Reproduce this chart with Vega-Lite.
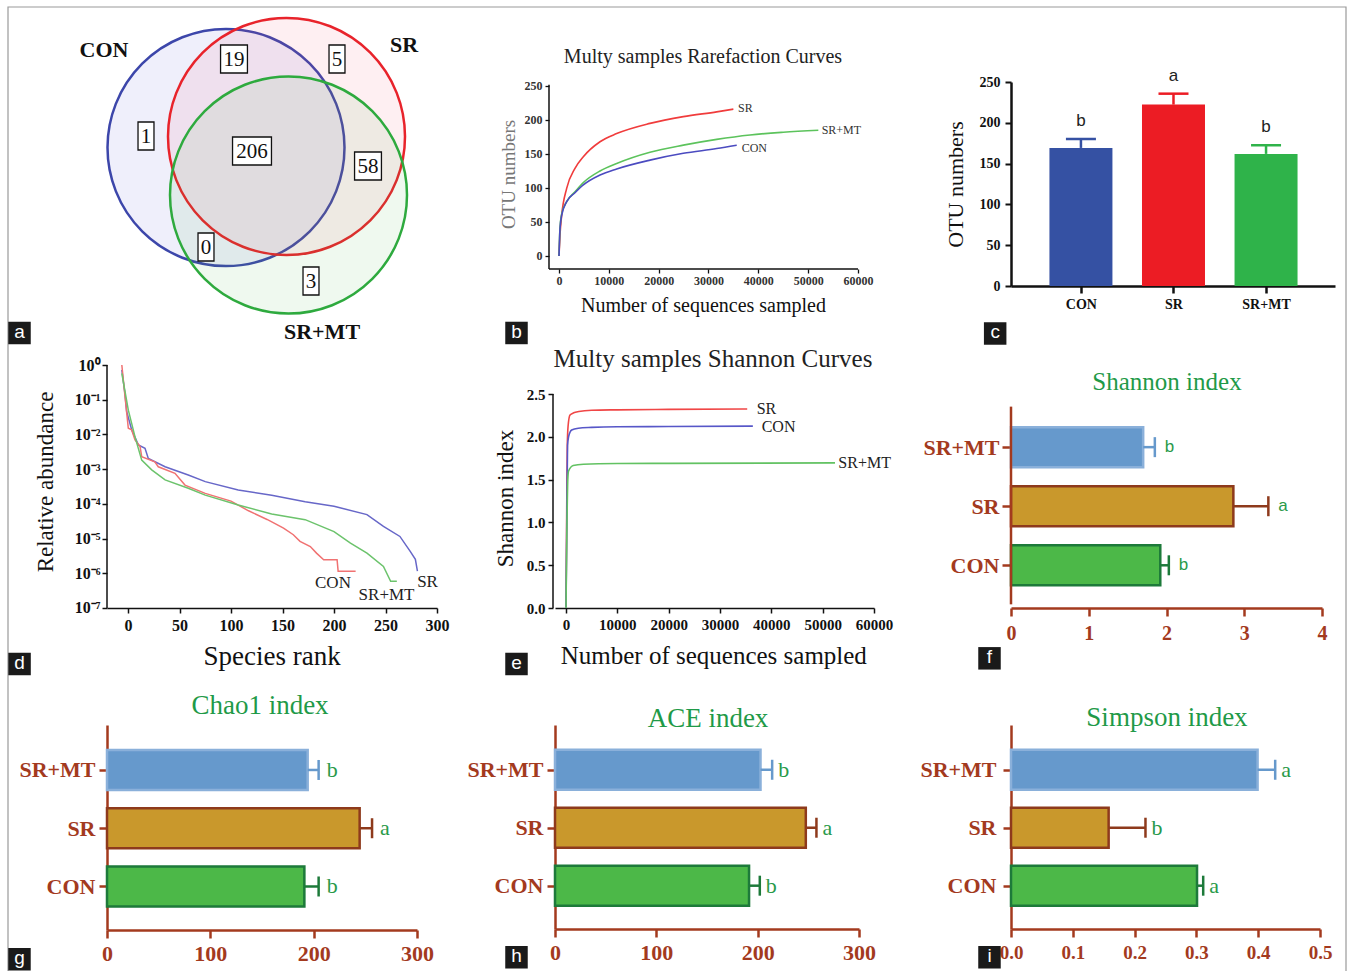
{
"$schema": "https://vega.github.io/schema/vega-lite/v6.json",
"autosize": {"type": "none"},
"padding": {"left": 107, "top": 82, "right": 1241, "bottom": 889},
"background": "white",
"columns": 3,
"spacing": {"row": 79, "column": 118},
"align": "none",
"bounds": "flush",
"resolve": {"scale": {"color": "independent", "fill": "independent", "stroke": "independent", "strokeWidth": "independent", "shape": "independent"}},
"datasets": {
"venn_sets": [{"set":"CON","cx":119,"cy":65.5},{"set":"SR","cx":179.5,"cy":54.5},{"set":"SR+MT","cx":181.5,"cy":113}],
"venn_counts": [{"n":"19","cx":127,"cy":-23},{"n":"5","cx":230,"cy":-23},{"n":"1","cx":39,"cy":54},{"n":"206","cx":145,"cy":69},{"n":"58","cx":261,"cy":84},{"n":"0","cx":99,"cy":165},{"n":"3","cx":204,"cy":199}],
"venn_names": [{"set":"CON","cx":-3,"cy":-32},{"set":"SR","cx":297,"cy":-37},{"set":"SR+MT","cx":215,"cy":250}],
"rarefaction": [
{"group":"SR","seqs":0,"otus":0},{"group":"SR","seqs":200,"otus":31},{"group":"SR","seqs":540,"otus":60},{"group":"SR","seqs":1540,"otus":99.5},{"group":"SR","seqs":3210,"otus":129},{"group":"SR","seqs":4880,"otus":146},{"group":"SR","seqs":8230,"otus":168},{"group":"SR","seqs":11570,"otus":180},{"group":"SR","seqs":18260,"otus":195},{"group":"SR","seqs":24950,"otus":205},{"group":"SR","seqs":31640,"otus":212},{"group":"SR","seqs":34990,"otus":216},
{"group":"SR+MT","seqs":0,"otus":0},{"group":"SR+MT","seqs":200,"otus":42},{"group":"SR+MT","seqs":540,"otus":62},{"group":"SR+MT","seqs":1540,"otus":80},{"group":"SR+MT","seqs":3210,"otus":94.5},{"group":"SR+MT","seqs":4880,"otus":108},{"group":"SR+MT","seqs":8230,"otus":125},{"group":"SR+MT","seqs":11570,"otus":136},{"group":"SR+MT","seqs":18260,"otus":152.5},{"group":"SR+MT","seqs":24950,"otus":163},{"group":"SR+MT","seqs":31640,"otus":171.5},{"group":"SR+MT","seqs":38330,"otus":178},{"group":"SR+MT","seqs":45010,"otus":182},{"group":"SR+MT","seqs":52040,"otus":185},
{"group":"CON","seqs":0,"otus":0},{"group":"CON","seqs":200,"otus":40},{"group":"CON","seqs":540,"otus":60},{"group":"CON","seqs":1540,"otus":80},{"group":"CON","seqs":3210,"otus":93},{"group":"CON","seqs":4880,"otus":104.5},{"group":"CON","seqs":8230,"otus":119},{"group":"CON","seqs":11570,"otus":128},{"group":"CON","seqs":18260,"otus":141},{"group":"CON","seqs":24950,"otus":151},{"group":"CON","seqs":31640,"otus":158},{"group":"CON","seqs":35660,"otus":163}
],
"rarefaction_labels": [{"group":"SR","seqs":35920,"otus":217.6},{"group":"SR+MT","seqs":52710,"otus":185.3},{"group":"CON","seqs":36660,"otus":158.8}],
"otu": [{"group":"CON","otus":169.2,"upper":180.3,"letter":"b"},{"group":"SR","otus":222.3,"upper":235.7,"letter":"a"},{"group":"SR+MT","otus":161.9,"upper":172.5,"letter":"b"}],
"rank_abundance": [
{"group":"SR","rank":-6,"abundance":0.724},{"group":"SR","rank":-3,"abundance":0.151},{"group":"SR","rank":-1.3,"abundance":0.0457},{"group":"SR","rank":3.6,"abundance":0.0135},{"group":"SR","rank":10,"abundance":0.00501},{"group":"SR","rank":16.5,"abundance":0.00398},{"group":"SR","rank":19.7,"abundance":0.00204},{"group":"SR","rank":36,"abundance":0.00117},{"group":"SR","rank":58.5,"abundance":0.000676},{"group":"SR","rank":75,"abundance":0.000437},{"group":"SR","rank":107,"abundance":0.000251},{"group":"SR","rank":139.5,"abundance":0.000178},{"group":"SR","rank":172,"abundance":0.000115},{"group":"SR","rank":200,"abundance":0.000085},{"group":"SR","rank":232,"abundance":0.000049},{"group":"SR","rank":248,"abundance":0.0000224},{"group":"SR","rank":264,"abundance":0.0000115},{"group":"SR","rank":274,"abundance":0.00000427},{"group":"SR","rank":279,"abundance":0.00000251},{"group":"SR","rank":281,"abundance":0.00000115},
{"group":"CON","rank":-6,"abundance":1.0},{"group":"CON","rank":-2.9,"abundance":0.123},{"group":"CON","rank":0.3,"abundance":0.0151},{"group":"CON","rank":3.6,"abundance":0.0135},{"group":"CON","rank":6.8,"abundance":0.00692},{"group":"CON","rank":11.7,"abundance":0.00447},{"group":"CON","rank":13.3,"abundance":0.00229},{"group":"CON","rank":26,"abundance":0.00162},{"group":"CON","rank":29.4,"abundance":0.00117},{"group":"CON","rank":45.6,"abundance":0.000759},{"group":"CON","rank":55.3,"abundance":0.000347},{"group":"CON","rank":75,"abundance":0.0002},{"group":"CON","rank":100,"abundance":0.00012},{"group":"CON","rank":117,"abundance":0.000063},{"group":"CON","rank":135,"abundance":0.0000355},{"group":"CON","rank":151,"abundance":0.00002},{"group":"CON","rank":160.5,"abundance":0.0000129},{"group":"CON","rank":167,"abundance":0.0000083},{"group":"CON","rank":177,"abundance":0.0000059},{"group":"CON","rank":183,"abundance":0.0000038},{"group":"CON","rank":190,"abundance":0.00000245},{"group":"CON","rank":203,"abundance":0.00000245},{"group":"CON","rank":204,"abundance":0.00000115},{"group":"CON","rank":221,"abundance":0.00000115},
{"group":"SR+MT","rank":-6,"abundance":0.575},{"group":"SR+MT","rank":0.3,"abundance":0.0501},{"group":"SR+MT","rank":6.8,"abundance":0.00851},{"group":"SR+MT","rank":13.3,"abundance":0.00182},{"group":"SR+MT","rank":23,"abundance":0.000955},{"group":"SR+MT","rank":36,"abundance":0.00049},{"group":"SR+MT","rank":58.5,"abundance":0.000282},{"group":"SR+MT","rank":75,"abundance":0.000178},{"group":"SR+MT","rank":107,"abundance":0.000093},{"group":"SR+MT","rank":139.5,"abundance":0.000051},{"group":"SR+MT","rank":172,"abundance":0.000035},{"group":"SR+MT","rank":200,"abundance":0.0000158},{"group":"SR+MT","rank":216,"abundance":0.0000074},{"group":"SR+MT","rank":232,"abundance":0.0000038},{"group":"SR+MT","rank":248,"abundance":0.00000158},{"group":"SR+MT","rank":255,"abundance":0.00000059},{"group":"SR+MT","rank":261,"abundance":0.00000059}
],
"rank_labels": [{"group":"CON","rank":199,"abundance":0.000000525},{"group":"SR+MT","rank":251,"abundance":0.000000236},{"group":"SR","rank":290.8,"abundance":0.00000056}],
"shannon_curves": [
{"group":"SR","seqs":0,"shannon":0},{"group":"SR","seqs":120,"shannon":1.0},{"group":"SR","seqs":250,"shannon":1.9},{"group":"SR","seqs":400,"shannon":2.12},{"group":"SR","seqs":780,"shannon":2.255},{"group":"SR","seqs":1500,"shannon":2.28},{"group":"SR","seqs":2500,"shannon":2.295},{"group":"SR","seqs":5000,"shannon":2.31},{"group":"SR","seqs":10000,"shannon":2.315},{"group":"SR","seqs":20000,"shannon":2.32},{"group":"SR","seqs":35300,"shannon":2.325},
{"group":"CON","seqs":0,"shannon":0},{"group":"CON","seqs":150,"shannon":1.0},{"group":"CON","seqs":300,"shannon":1.9},{"group":"CON","seqs":500,"shannon":2.0},{"group":"CON","seqs":1100,"shannon":2.08},{"group":"CON","seqs":2400,"shannon":2.1},{"group":"CON","seqs":5000,"shannon":2.11},{"group":"CON","seqs":10000,"shannon":2.118},{"group":"CON","seqs":20000,"shannon":2.12},{"group":"CON","seqs":36400,"shannon":2.125},
{"group":"SR+MT","seqs":0,"shannon":0},{"group":"SR+MT","seqs":150,"shannon":0.8},{"group":"SR+MT","seqs":350,"shannon":1.5},{"group":"SR+MT","seqs":500,"shannon":1.6},{"group":"SR+MT","seqs":1400,"shannon":1.665},{"group":"SR+MT","seqs":3400,"shannon":1.68},{"group":"SR+MT","seqs":10000,"shannon":1.688},{"group":"SR+MT","seqs":20000,"shannon":1.69},{"group":"SR+MT","seqs":52400,"shannon":1.695}
],
"shannon_labels": [{"group":"SR","seqs":37150,"shannon":2.325},{"group":"CON","seqs":38120,"shannon":2.117},{"group":"SR+MT","seqs":53050,"shannon":1.69}],
"alpha": [
{"index":"Shannon","group":"CON","mean":1.92,"upper":2.03,"letter":"b"},
{"index":"Shannon","group":"SR","mean":2.86,"upper":3.31,"letter":"a"},
{"index":"Shannon","group":"SR+MT","mean":1.7,"upper":1.85,"letter":"b"},
{"index":"Chao1","group":"CON","mean":191,"upper":204.8,"letter":"b"},
{"index":"Chao1","group":"SR","mean":244.5,"upper":256.5,"letter":"a"},
{"index":"Chao1","group":"SR+MT","mean":194.2,"upper":204.8,"letter":"b"},
{"index":"ACE","group":"CON","mean":191.5,"upper":202.1,"letter":"b"},
{"index":"ACE","group":"SR","mean":247.5,"upper":258,"letter":"a"},
{"index":"ACE","group":"SR+MT","mean":202.8,"upper":214.3,"letter":"b"},
{"index":"Simpson","group":"CON","mean":0.301,"upper":0.311,"letter":"a"},
{"index":"Simpson","group":"SR","mean":0.158,"upper":0.2176,"letter":"b"},
{"index":"Simpson","group":"SR+MT","mean":0.399,"upper":0.4275,"letter":"a"}
]
},
"concat": [
{
"width": 326, "height": 166,
"layer": [
{"data": {"values": [{}]}, "mark": {"type": "rect", "fill": null, "fillOpacity": 0, "stroke": "#9a9a9a", "strokeWidth": 1.2},
 "encoding": {"x": {"datum": -99, "axis": null}, "x2": {"datum": 1239}, "y": {"datum": -75, "axis": null}, "y2": {"datum": 900}}},
{"data": {"name": "venn_sets"},
 "mark": {"type": "point", "shape": "circle", "filled": true, "size": 56169, "opacity": 1, "fillOpacity": 0.09, "strokeOpacity": 1, "strokeWidth": 2.5},
 "encoding": {
  "x": {"field": "cx", "type": "quantitative", "scale": {"domain": [0, 326], "nice": false, "zero": false}, "axis": null},
  "y": {"field": "cy", "type": "quantitative", "scale": {"domain": [0, 166], "nice": false, "zero": false, "reverse": true}, "axis": null},
  "fill": {"field": "set", "type": "nominal", "scale": {"domain": ["CON","SR","SR+MT"], "range": ["#5050d8","#f04a6a","#4ac04a"]}, "legend": null},
  "stroke": {"field": "set", "type": "nominal", "scale": {"domain": ["CON","SR","SR+MT"], "range": ["#3c46aa","#e8232b","#2eaa3e"]}, "legend": null}
 }},
{"data": {"name": "venn_counts"}, "transform": [{"calculate": "length(datum.n)", "as": "digits"}],
 "mark": {"type": "point", "filled": true, "fill": "white", "stroke": "#111", "strokeWidth": 1.3, "opacity": 1, "size": 784},
 "encoding": {
  "x": {"field": "cx", "type": "quantitative", "axis": null},
  "y": {"field": "cy", "type": "quantitative", "axis": null},
  "shape": {"field": "digits", "type": "ordinal", "scale": {"domain": [1,2,3], "range": ["M-0.57,-1L0.57,-1L0.57,1L-0.57,1Z","M-0.96,-1L0.96,-1L0.96,1L-0.96,1Z","M-1.39,-1L1.39,-1L1.39,1L-1.39,1Z"]}, "legend": null}
 }},
{"data": {"name": "venn_counts"},
 "mark": {"type": "text", "font": "Liberation Serif", "fontSize": 21, "color": "#111", "align": "center", "baseline": "middle", "dy": 1},
 "encoding": {"x": {"field": "cx", "type": "quantitative", "axis": null}, "y": {"field": "cy", "type": "quantitative", "axis": null}, "text": {"field": "n"}}},
{"data": {"name": "venn_names"},
 "mark": {"type": "text", "font": "Liberation Serif", "fontSize": 22, "fontWeight": "bold", "color": "#111", "align": "center", "baseline": "middle"},
 "encoding": {"x": {"field": "cx", "type": "quantitative", "axis": null}, "y": {"field": "cy", "type": "quantitative", "axis": null}, "text": {"field": "set"}}},
{"data": {"values": [{"tag": "a"}]}, "mark": {"type": "point", "shape": "square", "filled": true, "color": "#1a1a1a", "opacity": 1, "size": 506},
 "encoding": {"x": {"datum": -87.5, "axis": null}, "y": {"datum": 251, "axis": null}}},
{"data": {"values": [{"tag": "a"}]}, "mark": {"type": "text", "font": "Liberation Sans", "fontSize": 19, "color": "white", "align": "center", "baseline": "middle", "dy": -1},
 "encoding": {"x": {"datum": -87.5, "axis": null}, "y": {"datum": 251, "axis": null}, "text": {"field": "tag"}}}
]
},
{
"width": 338, "height": 204,
"layer": [
{"data": {"name": "rarefaction"},
 "mark": {"type": "line", "interpolate": "monotone", "strokeWidth": 1.6, "opacity": 1},
 "encoding": {
  "x": {"field": "seqs", "type": "quantitative", "scale": {"domain": [-802.7, 67024], "nice": false, "zero": false},
        "axis": {"values": [0,10000,20000,30000,40000,50000,60000], "tickCount": 20, "format": "d", "offset": -17, "domain": false, "tickSize": 4, "tickWidth": 1.3, "labelFontSize": 12, "labelPadding": 2, "labelColor": "#333",
                 "title": "Number of sequences sampled", "titleFontSize": 20, "titleX": 148, "titleY": 36, "titleBaseline": "middle", "titleColor": "#111"}},
  "y": {"field": "otus", "type": "quantitative", "scale": {"domain": [-44.12, 255.88], "nice": false, "zero": false},
        "axis": {"values": [0,50,100,150,200,250], "tickCount": 20, "format": "d", "offset": 6, "domain": false, "tickSize": 4, "tickWidth": 1.3, "labelFontSize": 12, "labelPadding": 3, "labelColor": "#333",
                 "title": "OTU numbers", "titleFontSize": 19, "titleColor": "#777", "titleX": -41, "titleY": 92, "titleBaseline": "middle"}},
  "color": {"field": "group", "type": "nominal", "scale": {"domain": ["CON","SR","SR+MT"], "range": ["#4b4bc0","#f03c3c","#5cc35c"]}, "legend": null}
 }},
{"data": {"name": "rarefaction_labels"},
 "mark": {"type": "text", "font": "Liberation Serif", "fontSize": 12, "color": "#333", "align": "left", "baseline": "middle"},
 "encoding": {"x": {"field": "seqs", "type": "quantitative"}, "y": {"field": "otus", "type": "quantitative"}, "text": {"field": "group"}}},
{"data": {"values": [{"title": "Multy samples Rarefaction Curves"}]},
 "mark": {"type": "text", "font": "Liberation Serif", "fontSize": 20, "color": "#222", "align": "center", "baseline": "middle"},
 "encoding": {"x": {"datum": 28897}, "y": {"datum": 292.6}, "text": {"field": "title"}}},
{"data": {"values": [{}]}, "mark": {"type": "rule", "color": "#111", "strokeWidth": 1.5},
 "encoding": {"x": {"datum": -2007}, "x2": {"datum": 60000}, "y": {"datum": -19.1}}},
{"data": {"values": [{}]}, "mark": {"type": "rule", "color": "#111", "strokeWidth": 1.5},
 "encoding": {"x": {"datum": -2007}, "y": {"datum": -19.1}, "y2": {"datum": 252}}},
{"data": {"values": [{"tag": "b"}]}, "mark": {"type": "point", "shape": "square", "filled": true, "color": "#1a1a1a", "opacity": 1, "size": 506},
 "encoding": {"x": {"datum": -8528}, "y": {"datum": -113.2}}},
{"data": {"values": [{"tag": "b"}]}, "mark": {"type": "text", "font": "Liberation Sans", "fontSize": 19, "color": "white", "align": "center", "baseline": "middle", "dy": -1},
 "encoding": {"x": {"datum": -8528}, "y": {"datum": -113.2}, "text": {"field": "tag"}}}
]
},
{
"width": 324, "height": 204,
"layer": [
{"data": {"name": "otu"}, "transform": [{"calculate": "indexof(['CON','SR','SR+MT'], datum.group) + 1", "as": "pos"}],
 "mark": {"type": "bar", "orient": "vertical", "size": 63, "opacity": 1},
 "encoding": {
  "x": {"field": "pos", "type": "quantitative", "scale": {"domain": [0.2984, 3.691], "nice": false, "zero": false},
        "axis": {"values": [1,2,3], "tickCount": 20, "labelExpr": "['','CON','SR','SR+MT'][datum.value]", "tickSize": 7, "tickWidth": 2.5, "domainWidth": 2.5, "labelFontSize": 14, "labelPadding": 4, "title": null}},
  "y": {"field": "otus", "type": "quantitative", "scale": {"domain": [0, 250], "nice": false},
        "axis": {"values": [0,50,100,150,200,250], "tickCount": 20, "format": "d", "tickSize": 6, "tickWidth": 2, "domainWidth": 2.5, "labelFontSize": 14, "labelPadding": 5,
                 "title": "OTU numbers", "titleFontSize": 22, "titleX": -56, "titleY": 102, "titleBaseline": "middle"}},
  "y2": {"datum": 0},
  "color": {"field": "group", "type": "nominal", "scale": {"domain": ["CON","SR","SR+MT"], "range": ["#3551a3","#ec1c24","#2fb34a"]}, "legend": null}
 }},
{"data": {"name": "otu"}, "transform": [{"calculate": "indexof(['CON','SR','SR+MT'], datum.group) + 1", "as": "pos"}],
 "mark": {"type": "rule", "strokeWidth": 2.5, "opacity": 1},
 "encoding": {"x": {"field": "pos", "type": "quantitative"}, "y": {"field": "otus", "type": "quantitative"}, "y2": {"field": "upper"}, "color": {"field": "group", "type": "nominal", "legend": null}}},
{"data": {"name": "otu"}, "transform": [{"calculate": "indexof(['CON','SR','SR+MT'], datum.group) + 1", "as": "pos"}],
 "mark": {"type": "tick", "orient": "horizontal", "size": 30, "thickness": 2.5, "opacity": 1},
 "encoding": {"x": {"field": "pos", "type": "quantitative"}, "y": {"field": "upper", "type": "quantitative"}, "color": {"field": "group", "type": "nominal", "legend": null}}},
{"data": {"name": "otu"}, "transform": [{"calculate": "indexof(['CON','SR','SR+MT'], datum.group) + 1", "as": "pos"}],
 "mark": {"type": "text", "font": "Liberation Sans", "fontSize": 17, "color": "#222", "align": "center", "baseline": "middle", "dy": -18},
 "encoding": {"x": {"field": "pos", "type": "quantitative"}, "y": {"field": "upper", "type": "quantitative"}, "text": {"field": "letter"}}},
{"data": {"values": [{"tag": "c"}]}, "mark": {"type": "point", "shape": "square", "filled": true, "color": "#1a1a1a", "opacity": 1, "size": 506},
 "encoding": {"x": {"datum": 0.0733}, "y": {"datum": -58.2}}},
{"data": {"values": [{"tag": "c"}]}, "mark": {"type": "text", "font": "Liberation Sans", "fontSize": 19, "color": "white", "align": "center", "baseline": "middle", "dy": -1},
 "encoding": {"x": {"datum": 0.0733}, "y": {"datum": -58.2}, "text": {"field": "tag"}}}
]
},
{
"width": 330, "height": 281,
"layer": [
{"data": {"name": "rank_abundance"},
 "mark": {"type": "line", "strokeWidth": 1.5, "opacity": 1},
 "encoding": {
  "x": {"field": "rank", "type": "quantitative", "scale": {"domain": [-20.4, 300], "nice": false, "zero": false},
        "axis": {"values": [0,50,100,150,200,250,300], "tickCount": 20, "format": "d", "offset": -38, "tickSize": 5, "tickWidth": 1.5, "domainWidth": 1.5, "labelFontSize": 16, "labelPadding": 4,
                 "title": "Species rank", "titleFontSize": 27, "titleX": 164.7, "titleY": 48.7, "titleBaseline": "middle"}},
  "y": {"field": "abundance", "type": "quantitative", "scale": {"type": "log", "domain": [0.00000000802, 1], "nice": false},
        "axis": {"values": [1,0.1,0.01,0.001,0.0001,0.00001,0.000001,0.0000001], "tickCount": 20, "domain": false, "labelExpr": "'10' + ['⁰','⁻¹','⁻²','⁻³','⁻⁴','⁻⁵','⁻⁶','⁻⁷'][round(-log(datum.value)/LN10)]",
                 "tickSize": 5, "tickWidth": 1.5, "labelFontSize": 16, "labelPadding": 2,
                 "title": "Relative abundance", "titleFontSize": 23, "titleX": -62, "titleY": 116.5, "titleBaseline": "middle"}},
  "color": {"field": "group", "type": "nominal", "scale": {"domain": ["CON","SR","SR+MT"], "range": ["#f07272","#6767c8","#6cc36c"]}, "legend": null}
 }},
{"data": {"name": "rank_labels"},
 "mark": {"type": "text", "font": "Liberation Serif", "fontSize": 17, "color": "#222", "align": "center", "baseline": "middle"},
 "encoding": {"x": {"field": "rank", "type": "quantitative"}, "y": {"field": "abundance", "type": "quantitative"}, "text": {"field": "group"}}},
{"data": {"values": [{}]}, "mark": {"type": "rule", "color": "#111", "strokeWidth": 1.5},
 "encoding": {"x": {"datum": -20.4}, "y": {"datum": 0.0000001}, "y2": {"datum": 1}}},
{"data": {"values": [{"tag": "d"}]}, "mark": {"type": "point", "shape": "square", "filled": true, "color": "#1a1a1a", "opacity": 1, "size": 506},
 "encoding": {"x": {"datum": -105.3}, "y": {"datum": 0.00000000243}}},
{"data": {"values": [{"tag": "d"}]}, "mark": {"type": "text", "font": "Liberation Sans", "fontSize": 19, "color": "white", "align": "center", "baseline": "middle", "dy": -1},
 "encoding": {"x": {"datum": -105.3}, "y": {"datum": 0.00000000243}, "text": {"field": "tag"}}}
]
},
{
"width": 319, "height": 281,
"layer": [
{"data": {"name": "shannon_curves"},
 "mark": {"type": "line", "interpolate": "monotone", "strokeWidth": 1.6, "opacity": 1},
 "encoding": {
  "x": {"field": "seqs", "type": "quantitative", "scale": {"domain": [-2143, 60000], "nice": false, "zero": false},
        "axis": {"values": [0,10000,20000,30000,40000,50000,60000], "tickCount": 20, "format": "d", "offset": -38, "tickSize": 5, "tickWidth": 1.5, "domainWidth": 1.5, "labelFontSize": 15, "labelPadding": 4,
                 "title": "Number of sequences sampled", "titleFontSize": 25, "titleX": 158.3, "titleY": 47, "titleBaseline": "middle"}},
  "y": {"field": "shannon", "type": "quantitative", "scale": {"domain": [-0.4439, 2.8388], "nice": false, "zero": false},
        "axis": {"values": [0,0.5,1,1.5,2,2.5], "tickCount": 20, "format": ".1f", "offset": 2, "domain": false, "tickSize": 5, "tickWidth": 1.5, "labelFontSize": 15, "labelPadding": 3,
                 "title": "Shannon index", "titleFontSize": 23, "titleX": -48, "titleY": 133, "titleBaseline": "middle"}},
  "color": {"field": "group", "type": "nominal", "scale": {"domain": ["CON","SR","SR+MT"], "range": ["#5757c8","#f04646","#62c262"]}, "legend": null}
 }},
{"data": {"name": "shannon_labels"},
 "mark": {"type": "text", "font": "Liberation Serif", "fontSize": 16, "color": "#222", "align": "left", "baseline": "middle"},
 "encoding": {"x": {"field": "seqs", "type": "quantitative"}, "y": {"field": "shannon", "type": "quantitative"}, "text": {"field": "group"}}},
{"data": {"values": [{"title": "Multy samples Shannon Curves"}]},
 "mark": {"type": "text", "font": "Liberation Serif", "fontSize": 25, "color": "#222", "align": "center", "baseline": "middle"},
 "encoding": {"x": {"datum": 28636}, "y": {"datum": 2.909}, "text": {"field": "title"}}},
{"data": {"values": [{}]}, "mark": {"type": "rule", "color": "#111", "strokeWidth": 1.5},
 "encoding": {"x": {"datum": -2532}, "y": {"datum": 0}, "y2": {"datum": 2.5}}},
{"data": {"values": [{"tag": "e"}]}, "mark": {"type": "point", "shape": "square", "filled": true, "color": "#1a1a1a", "opacity": 1, "size": 506},
 "encoding": {"x": {"datum": -9643}, "y": {"datum": -0.654}}},
{"data": {"values": [{"tag": "e"}]}, "mark": {"type": "text", "font": "Liberation Sans", "fontSize": 19, "color": "white", "align": "center", "baseline": "middle", "dy": -1},
 "encoding": {"x": {"datum": -9643}, "y": {"datum": -0.654}, "text": {"field": "tag"}}}
]
},
{
"width": 311, "height": 281,
"layer": [
{"data": {"name": "alpha"}, "transform": [{"filter": "datum.index == 'Shannon'"}, {"calculate": "indexof(['CON','SR','SR+MT'], datum.group) + 1", "as": "pos"}],
 "mark": {"type": "bar", "orient": "horizontal", "size": 40, "opacity": 1},
 "encoding": {
  "y": {"field": "pos", "type": "quantitative", "scale": {"domain": [-0.2816, 4.306], "nice": false, "zero": false},
        "axis": {"values": [1,2,3], "tickCount": 20, "domain": false, "labelExpr": "['','CON','SR','SR+MT'][datum.value]", "tickSize": 9, "tickWidth": 2.5, "tickColor": "#a33a1e", "labelColor": "#a33a1e", "labelFontSize": 22, "labelPadding": 3, "title": null}},
  "x": {"field": "mean", "type": "quantitative", "scale": {"domain": [0, 4], "nice": false},
        "axis": {"values": [0,1,2,3,4], "tickCount": 20, "format": "d", "offset": -38, "tickSize": 8, "tickWidth": 2.5, "domainWidth": 2.5, "domainColor": "#a33a1e", "tickColor": "#a33a1e", "labelColor": "#a33a1e", "labelFontSize": 20, "labelPadding": 7, "title": null}},
  "x2": {"datum": 0},
  "fill": {"field": "group", "type": "nominal", "scale": {"domain": ["CON","SR","SR+MT"], "range": ["#4cb848","#c9982c","#6699cc"]}, "legend": null},
  "stroke": {"field": "group", "type": "nominal", "scale": {"domain": ["CON","SR","SR+MT"], "range": ["#1d7a3a","#8e3a1c","#8ab0da"]}, "legend": null},
  "strokeWidth": {"field": "group", "type": "nominal", "scale": {"domain": ["CON","SR","SR+MT"], "range": [2.5,2.5,1]}, "legend": null}
 }},
{"data": {"name": "alpha"}, "transform": [{"filter": "datum.index == 'Shannon'"}, {"calculate": "indexof(['CON','SR','SR+MT'], datum.group) + 1", "as": "pos"}],
 "mark": {"type": "rule", "strokeWidth": 2.5, "opacity": 1},
 "encoding": {"y": {"field": "pos", "type": "quantitative"}, "x": {"field": "mean", "type": "quantitative"}, "x2": {"field": "upper"},
  "color": {"field": "group", "type": "nominal", "scale": {"domain": ["CON","SR","SR+MT"], "range": ["#1d7a3a","#8e3a1c","#6699cc"]}, "legend": null}}},
{"data": {"name": "alpha"}, "transform": [{"filter": "datum.index == 'Shannon'"}, {"calculate": "indexof(['CON','SR','SR+MT'], datum.group) + 1", "as": "pos"}],
 "mark": {"type": "tick", "orient": "vertical", "size": 20, "thickness": 2.5, "opacity": 1},
 "encoding": {"y": {"field": "pos", "type": "quantitative"}, "x": {"field": "upper", "type": "quantitative"}, "color": {"field": "group", "type": "nominal", "legend": null}}},
{"data": {"name": "alpha"}, "transform": [{"filter": "datum.index == 'Shannon'"}, {"calculate": "indexof(['CON','SR','SR+MT'], datum.group) + 1", "as": "pos"}],
 "mark": {"type": "text", "font": "Liberation Sans", "fontSize": 17, "color": "#2a9a4a", "align": "left", "baseline": "middle", "dx": 10},
 "encoding": {"y": {"field": "pos", "type": "quantitative"}, "x": {"field": "upper", "type": "quantitative"}, "text": {"field": "letter"}}},
{"data": {"values": [{"title": "Shannon index"}]},
 "mark": {"type": "text", "font": "Liberation Serif", "fontSize": 25, "color": "#1f9a48", "align": "center", "baseline": "middle"},
 "encoding": {"x": {"datum": 2.0064}, "y": {"datum": 4.11}, "text": {"field": "title"}}},
{"data": {"values": [{}]}, "mark": {"type": "rule", "color": "#a33a1e", "strokeWidth": 2.5},
 "encoding": {"x": {"datum": 0}, "y": {"datum": 0.339}, "y2": {"datum": 3.686}}},
{"data": {"values": [{"tag": "f"}]}, "mark": {"type": "point", "shape": "square", "filled": true, "color": "#1a1a1a", "opacity": 1, "size": 506},
 "encoding": {"x": {"datum": -0.2765}, "y": {"datum": -0.575}}},
{"data": {"values": [{"tag": "f"}]}, "mark": {"type": "text", "font": "Liberation Sans", "fontSize": 19, "color": "white", "align": "center", "baseline": "middle", "dy": -1},
 "encoding": {"x": {"datum": -0.2765}, "y": {"datum": -0.575}, "text": {"field": "tag"}}}
]
},
{
"width": 310, "height": 205,
"layer": [
{"data": {"name": "alpha"}, "transform": [{"filter": "datum.index == 'Chao1'"}, {"calculate": "indexof(['CON','SR','SR+MT'], datum.group) + 1", "as": "pos"}],
 "mark": {"type": "bar", "orient": "horizontal", "size": 40, "opacity": 1},
 "encoding": {
  "y": {"field": "pos", "type": "quantitative", "scale": {"domain": [0.339, 3.686], "nice": false, "zero": false},
        "axis": {"values": [1,2,3], "tickCount": 20, "labelExpr": "['','CON','SR','SR+MT'][datum.value]", "tickSize": 8, "tickWidth": 2.5, "domainWidth": 2.5, "domainColor": "#a33a1e", "tickColor": "#a33a1e", "labelColor": "#a33a1e", "labelFontSize": 22, "labelPadding": 4, "title": null}},
  "x": {"field": "mean", "type": "quantitative", "scale": {"domain": [0, 300], "nice": false},
        "axis": {"values": [0,100,200,300], "tickCount": 20, "format": "d", "tickSize": 8, "tickWidth": 2.5, "domainWidth": 2.5, "domainColor": "#a33a1e", "tickColor": "#a33a1e", "labelColor": "#a33a1e", "labelFontSize": 22, "labelPadding": 5, "title": null}},
  "x2": {"datum": 0},
  "fill": {"field": "group", "type": "nominal", "scale": {"domain": ["CON","SR","SR+MT"], "range": ["#4cb848","#c9982c","#6699cc"]}, "legend": null},
  "stroke": {"field": "group", "type": "nominal", "scale": {"domain": ["CON","SR","SR+MT"], "range": ["#1d7a3a","#8e3a1c","#8ab0da"]}, "legend": null},
  "strokeWidth": {"field": "group", "type": "nominal", "scale": {"domain": ["CON","SR","SR+MT"], "range": [2.5,2.5,1]}, "legend": null}
 }},
{"data": {"name": "alpha"}, "transform": [{"filter": "datum.index == 'Chao1'"}, {"calculate": "indexof(['CON','SR','SR+MT'], datum.group) + 1", "as": "pos"}],
 "mark": {"type": "rule", "strokeWidth": 2.5, "opacity": 1},
 "encoding": {"y": {"field": "pos", "type": "quantitative"}, "x": {"field": "mean", "type": "quantitative"}, "x2": {"field": "upper"},
  "color": {"field": "group", "type": "nominal", "scale": {"domain": ["CON","SR","SR+MT"], "range": ["#1d7a3a","#8e3a1c","#6699cc"]}, "legend": null}}},
{"data": {"name": "alpha"}, "transform": [{"filter": "datum.index == 'Chao1'"}, {"calculate": "indexof(['CON','SR','SR+MT'], datum.group) + 1", "as": "pos"}],
 "mark": {"type": "tick", "orient": "vertical", "size": 20, "thickness": 2.5, "opacity": 1},
 "encoding": {"y": {"field": "pos", "type": "quantitative"}, "x": {"field": "upper", "type": "quantitative"}, "color": {"field": "group", "type": "nominal", "legend": null}}},
{"data": {"name": "alpha"}, "transform": [{"filter": "datum.index == 'Chao1'"}, {"calculate": "indexof(['CON','SR','SR+MT'], datum.group) + 1", "as": "pos"}],
 "mark": {"type": "text", "font": "Liberation Serif", "fontSize": 22, "color": "#2a9a4a", "align": "left", "baseline": "middle", "dx": 8},
 "encoding": {"y": {"field": "pos", "type": "quantitative"}, "x": {"field": "upper", "type": "quantitative"}, "text": {"field": "letter"}}},
{"data": {"values": [{"title": "Chao1 index"}]},
 "mark": {"type": "text", "font": "Liberation Serif", "fontSize": 27, "color": "#1f9a48", "align": "center", "baseline": "middle"},
 "encoding": {"x": {"datum": 148.06}, "y": {"datum": 4.094}, "text": {"field": "title"}}},
{"data": {"values": [{"tag": "g"}]}, "mark": {"type": "point", "shape": "square", "filled": true, "color": "#1a1a1a", "opacity": 1, "size": 506},
 "encoding": {"x": {"datum": -84.7}, "y": {"datum": -0.249}}},
{"data": {"values": [{"tag": "g"}]}, "mark": {"type": "text", "font": "Liberation Sans", "fontSize": 19, "color": "white", "align": "center", "baseline": "middle", "dy": -1},
 "encoding": {"x": {"datum": -84.7}, "y": {"datum": -0.249}, "text": {"field": "tag"}}}
]
},
{
"width": 304, "height": 204,
"layer": [
{"data": {"name": "alpha"}, "transform": [{"filter": "datum.index == 'ACE'"}, {"calculate": "indexof(['CON','SR','SR+MT'], datum.group) + 1", "as": "pos"}],
 "mark": {"type": "bar", "orient": "horizontal", "size": 40, "opacity": 1},
 "encoding": {
  "y": {"field": "pos", "type": "quantitative", "scale": {"domain": [0.339, 3.686], "nice": false, "zero": false},
        "axis": {"values": [1,2,3], "tickCount": 20, "labelExpr": "['','CON','SR','SR+MT'][datum.value]", "tickSize": 8, "tickWidth": 2.5, "domainWidth": 2.5, "domainColor": "#a33a1e", "tickColor": "#a33a1e", "labelColor": "#a33a1e", "labelFontSize": 22, "labelPadding": 4, "title": null}},
  "x": {"field": "mean", "type": "quantitative", "scale": {"domain": [0, 300], "nice": false},
        "axis": {"values": [0,100,200,300], "tickCount": 20, "format": "d", "tickSize": 8, "tickWidth": 2.5, "domainWidth": 2.5, "domainColor": "#a33a1e", "tickColor": "#a33a1e", "labelColor": "#a33a1e", "labelFontSize": 22, "labelPadding": 5, "title": null}},
  "x2": {"datum": 0},
  "fill": {"field": "group", "type": "nominal", "scale": {"domain": ["CON","SR","SR+MT"], "range": ["#4cb848","#c9982c","#6699cc"]}, "legend": null},
  "stroke": {"field": "group", "type": "nominal", "scale": {"domain": ["CON","SR","SR+MT"], "range": ["#1d7a3a","#8e3a1c","#8ab0da"]}, "legend": null},
  "strokeWidth": {"field": "group", "type": "nominal", "scale": {"domain": ["CON","SR","SR+MT"], "range": [2.5,2.5,1]}, "legend": null}
 }},
{"data": {"name": "alpha"}, "transform": [{"filter": "datum.index == 'ACE'"}, {"calculate": "indexof(['CON','SR','SR+MT'], datum.group) + 1", "as": "pos"}],
 "mark": {"type": "rule", "strokeWidth": 2.5, "opacity": 1},
 "encoding": {"y": {"field": "pos", "type": "quantitative"}, "x": {"field": "mean", "type": "quantitative"}, "x2": {"field": "upper"},
  "color": {"field": "group", "type": "nominal", "scale": {"domain": ["CON","SR","SR+MT"], "range": ["#1d7a3a","#8e3a1c","#6699cc"]}, "legend": null}}},
{"data": {"name": "alpha"}, "transform": [{"filter": "datum.index == 'ACE'"}, {"calculate": "indexof(['CON','SR','SR+MT'], datum.group) + 1", "as": "pos"}],
 "mark": {"type": "tick", "orient": "vertical", "size": 20, "thickness": 2.5, "opacity": 1},
 "encoding": {"y": {"field": "pos", "type": "quantitative"}, "x": {"field": "upper", "type": "quantitative"}, "color": {"field": "group", "type": "nominal", "legend": null}}},
{"data": {"name": "alpha"}, "transform": [{"filter": "datum.index == 'ACE'"}, {"calculate": "indexof(['CON','SR','SR+MT'], datum.group) + 1", "as": "pos"}],
 "mark": {"type": "text", "font": "Liberation Serif", "fontSize": 22, "color": "#2a9a4a", "align": "left", "baseline": "middle", "dx": 6},
 "encoding": {"y": {"field": "pos", "type": "quantitative"}, "x": {"field": "upper", "type": "quantitative"}, "text": {"field": "letter"}}},
{"data": {"values": [{"title": "ACE index"}]},
 "mark": {"type": "text", "font": "Liberation Serif", "fontSize": 27, "color": "#1f9a48", "align": "center", "baseline": "middle"},
 "encoding": {"x": {"datum": 151}, "y": {"datum": 3.883}, "text": {"field": "title"}}},
{"data": {"values": [{"tag": "h"}]}, "mark": {"type": "point", "shape": "square", "filled": true, "color": "#1a1a1a", "opacity": 1, "size": 506},
 "encoding": {"x": {"datum": -38}, "y": {"datum": -0.235}}},
{"data": {"values": [{"tag": "h"}]}, "mark": {"type": "text", "font": "Liberation Sans", "fontSize": 19, "color": "white", "align": "center", "baseline": "middle", "dy": -1},
 "encoding": {"x": {"datum": -38}, "y": {"datum": -0.235}, "text": {"field": "tag"}}}
]
},
{
"width": 309, "height": 204,
"layer": [
{"data": {"name": "alpha"}, "transform": [{"filter": "datum.index == 'Simpson'"}, {"calculate": "indexof(['CON','SR','SR+MT'], datum.group) + 1", "as": "pos"}],
 "mark": {"type": "bar", "orient": "horizontal", "size": 40, "opacity": 1},
 "encoding": {
  "y": {"field": "pos", "type": "quantitative", "scale": {"domain": [0.339, 3.686], "nice": false, "zero": false},
        "axis": {"values": [1,2,3], "tickCount": 20, "labelExpr": "['','CON','SR','SR+MT'][datum.value]", "tickSize": 8, "tickWidth": 2.5, "domainWidth": 2.5, "domainColor": "#a33a1e", "tickColor": "#a33a1e", "labelColor": "#a33a1e", "labelFontSize": 22, "labelPadding": 7, "title": null}},
  "x": {"field": "mean", "type": "quantitative", "scale": {"domain": [0, 0.5], "nice": false},
        "axis": {"values": [0,0.1,0.2,0.3,0.4,0.5], "tickCount": 20, "format": ".1f", "tickSize": 8, "tickWidth": 2.5, "domainWidth": 2.5, "domainColor": "#a33a1e", "tickColor": "#a33a1e", "labelColor": "#a33a1e", "labelFontSize": 19, "labelPadding": 6, "title": null}},
  "x2": {"datum": 0},
  "fill": {"field": "group", "type": "nominal", "scale": {"domain": ["CON","SR","SR+MT"], "range": ["#4cb848","#c9982c","#6699cc"]}, "legend": null},
  "stroke": {"field": "group", "type": "nominal", "scale": {"domain": ["CON","SR","SR+MT"], "range": ["#1d7a3a","#8e3a1c","#8ab0da"]}, "legend": null},
  "strokeWidth": {"field": "group", "type": "nominal", "scale": {"domain": ["CON","SR","SR+MT"], "range": [2.5,2.5,1]}, "legend": null}
 }},
{"data": {"name": "alpha"}, "transform": [{"filter": "datum.index == 'Simpson'"}, {"calculate": "indexof(['CON','SR','SR+MT'], datum.group) + 1", "as": "pos"}],
 "mark": {"type": "rule", "strokeWidth": 2.5, "opacity": 1},
 "encoding": {"y": {"field": "pos", "type": "quantitative"}, "x": {"field": "mean", "type": "quantitative"}, "x2": {"field": "upper"},
  "color": {"field": "group", "type": "nominal", "scale": {"domain": ["CON","SR","SR+MT"], "range": ["#1d7a3a","#8e3a1c","#6699cc"]}, "legend": null}}},
{"data": {"name": "alpha"}, "transform": [{"filter": "datum.index == 'Simpson'"}, {"calculate": "indexof(['CON','SR','SR+MT'], datum.group) + 1", "as": "pos"}],
 "mark": {"type": "tick", "orient": "vertical", "size": 20, "thickness": 2.5, "opacity": 1},
 "encoding": {"y": {"field": "pos", "type": "quantitative"}, "x": {"field": "upper", "type": "quantitative"}, "color": {"field": "group", "type": "nominal", "legend": null}}},
{"data": {"name": "alpha"}, "transform": [{"filter": "datum.index == 'Simpson'"}, {"calculate": "indexof(['CON','SR','SR+MT'], datum.group) + 1", "as": "pos"}],
 "mark": {"type": "text", "font": "Liberation Serif", "fontSize": 22, "color": "#2a9a4a", "align": "left", "baseline": "middle", "dx": 6},
 "encoding": {"y": {"field": "pos", "type": "quantitative"}, "x": {"field": "upper", "type": "quantitative"}, "text": {"field": "letter"}}},
{"data": {"values": [{"title": "Simpson index"}]},
 "mark": {"type": "text", "font": "Liberation Serif", "fontSize": 27, "color": "#1f9a48", "align": "center", "baseline": "middle"},
 "encoding": {"x": {"datum": 0.2524}, "y": {"datum": 3.899}, "text": {"field": "title"}}},
{"data": {"values": [{"tag": "i"}]}, "mark": {"type": "point", "shape": "square", "filled": true, "color": "#1a1a1a", "opacity": 1, "size": 506},
 "encoding": {"x": {"datum": -0.0348}, "y": {"datum": -0.235}}},
{"data": {"values": [{"tag": "i"}]}, "mark": {"type": "text", "font": "Liberation Sans", "fontSize": 19, "color": "white", "align": "center", "baseline": "middle", "dy": -1},
 "encoding": {"x": {"datum": -0.0348}, "y": {"datum": -0.235}, "text": {"field": "tag"}}}
]
}
],
"config": {
"view": {"stroke": null},
"font": "Liberation Serif",
"axis": {"labelFont": "Liberation Serif", "labelFontWeight": "bold", "titleFont": "Liberation Serif", "titleFontWeight": "normal", "grid": false, "labelFlush": false, "labelOverlap": false, "labelBound": false, "domainColor": "#111", "tickColor": "#111", "labelColor": "#111", "titleColor": "#111"}
}
}
